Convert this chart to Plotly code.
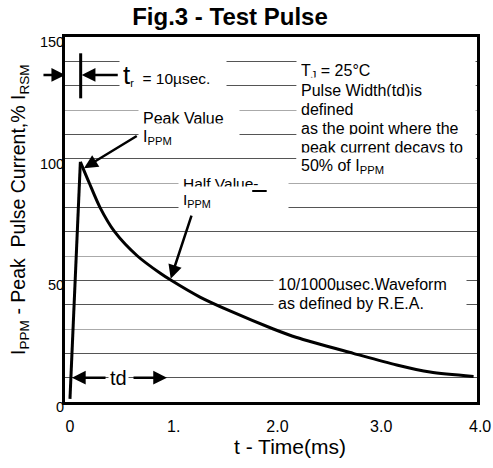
import plotly.graph_objects as go

# ---------------- data ----------------
rise_t = [0.0, 0.10]
rise_v = [1.3, 98.7]

decay_t = [0.10, 0.186, 0.289, 0.43, 0.65, 0.867, 0.975, 1.253, 1.542,
           1.96, 2.185, 2.73, 3.149, 3.47, 3.89]
decay_v = [98.7, 90.0, 80.0, 70.0, 60.0, 53.0, 50.0, 43.1, 37.4,
           30.0, 26.5, 20.0, 15.2, 12.3, 10.5]

x_tick_vals = [0, 1, 2, 3, 4]
x_tick_text = ["0", "1.", "2.0", "3.0", "4.0"]
y_label_vals = [0, 50, 100, 150]
y_grid_dark = [10, 20, 40, 70, 80, 110, 130, 140]
y_grid_light = [30, 60, 90, 120]

X_RANGE = [-0.048, 3.923]
Y_RANGE = [0, 150]

FONT = "Liberation Sans, Arial, sans-serif"
W, H = 493, 468
ML, MR, MT, MB = 65, 16, 37, 66
PW, PH = W - ML - MR, H - MT - MB

fig = go.Figure()
fig.add_trace(go.Scatter(x=rise_t, y=rise_v, mode="lines",
                         line=dict(color="black", width=3),
                         hoverinfo="skip", showlegend=False))
fig.add_trace(go.Scatter(x=decay_t, y=decay_v, mode="lines",
                         line=dict(color="black", width=3, shape="spline", smoothing=0.8),
                         hoverinfo="skip", showlegend=False))

in_range = [i for i, v in enumerate(x_tick_vals) if X_RANGE[0] <= v <= X_RANGE[1]]
fig.update_xaxes(range=X_RANGE,
                 tickvals=[x_tick_vals[i] for i in in_range],
                 ticktext=[x_tick_text[i] for i in in_range],
                 showgrid=False, zeroline=False, ticks="",
                 showline=True, linecolor="black", linewidth=3, mirror=True,
                 tickfont=dict(family=FONT, size=16, color="black"),
                 ticklabelstandoff=8)

y_tick_vals = sorted(y_label_vals + y_grid_dark)
y_tick_text = [str(v) if v in y_label_vals else "" for v in y_tick_vals]
fig.update_yaxes(range=Y_RANGE, tickvals=y_tick_vals, ticktext=y_tick_text,
                 showgrid=True, gridcolor="#555555", gridwidth=1,
                 minor=dict(tickvals=y_grid_light, showgrid=True,
                            gridcolor="#aaaaaa", gridwidth=1),
                 zeroline=False, ticks="",
                 showline=True, linecolor="black", linewidth=3, mirror=True,
                 tickfont=dict(family=FONT, size=14.5, color="black"),
                 ticklabelshift=5, ticklabelstandoff=-5)

ann = []

def text_lines(lines, x, y, spacing, width, size=16, pad=4):
    for i, t in enumerate(lines):
        ann.append(dict(text=t, x=x, y=y, xref="x", yref="y", xanchor="left",
                        yanchor="middle", yshift=-i * spacing, showarrow=False,
                        align="left", width=width, bgcolor="white", borderpad=pad,
                        font=dict(family=FONT, size=size, color="black")))

def arrow(hx, hy, tx, ty, head=2, width=2.5):
    ann.append(dict(text="", x=hx, y=hy, ax=tx, ay=ty, xref="x", yref="y",
                    axref="x", ayref="y", showarrow=True, arrowhead=head,
                    arrowsize=1.1, arrowwidth=width, arrowcolor="black", standoff=0,
                    startstandoff=0))

# text blocks
text_lines(["<span style='font-size:26px'>t</span><sub>r</sub>  = 10µsec."],
           0.475, 134.4, 0, 100, size=15.5, pad=3)
text_lines(["Peak Value", "I<sub>PPM</sub>"], 0.655, 116.5, 19, 92, size=16)
text_lines(["Half Value-", "I<sub>PPM</sub>"], 1.041, 90.0, 17.5, 101, size=15.5)
text_lines(["T<sub>J</sub> = 25°C", "Pulse Width(td)is", "defined",
            "as the point where the", "peak current decays to",
            "50% of I<sub>PPM</sub>"], 2.178, 135.7, 18.9, 170, size=16)
text_lines(["10/1000µsec.Waveform", "as defined by R.E.A."],
           1.957, 48.35, 19, 184, size=16)
ann.append(dict(text="td", x=0.472, y=9.7, xref="x", yref="y", showarrow=False,
                bgcolor="white", borderpad=1,
                font=dict(family=FONT, size=20, color="black")))

# arrows
arrow(-0.046, 134.4, -0.27, 134.4)
arrow(0.113, 134.4, 0.475, 134.4)
arrow(0.135, 96.1, 0.658, 109.7)
arrow(0.971, 50.7, 1.176, 77.2)
arrow(0.019, 10, 0.357, 10)
arrow(0.935, 10, 0.598, 10)
# short stroke under "Half Value-"
arrow(1.896, 86.7, 1.742, 86.7, head=0, width=2)

# axis titles and out-of-range tick label
ann.append(dict(text="I<sub>PPM</sub> - Peak  Pulse Current,% I<sub>RSM</sub>",
                textangle=-90, x=(19 - ML) / PW, y=(H - MB - 210) / PH,
                xref="paper", yref="paper", xanchor="center", yanchor="middle",
                showarrow=False, font=dict(family=FONT, size=19.5, color="black")))
ann.append(dict(text="t - Time(ms)", x=(290 - ML) / PW, y=-(446 - (H - MB)) / PH,
                xref="paper", yref="paper", xanchor="center", yanchor="middle",
                showarrow=False, font=dict(family=FONT, size=21, color="black")))
for v, t in zip(x_tick_vals, x_tick_text):
    if not (X_RANGE[0] <= v <= X_RANGE[1]):
        ann.append(dict(text=t, x=(v - X_RANGE[0]) / (X_RANGE[1] - X_RANGE[0]),
                        y=-(426 - (H - MB)) / PH, xref="paper", yref="paper",
                        xanchor="center", yanchor="middle", xshift=-5,
                        showarrow=False,
                        font=dict(family=FONT, size=16, color="black")))

shapes = [
    dict(type="line", xref="x", yref="y", x0=0.103, x1=0.103, y0=124.8, y1=143.3,
         line=dict(color="black", width=3)),
]

fig.update_layout(
    width=W, height=H, margin=dict(l=ML, r=MR, t=MT, b=MB),
    paper_bgcolor="white", plot_bgcolor="white",
    title=dict(text="<b>Fig.3 - Test Pulse</b>", x=230 / W, xanchor="center",
               y=1 - 17 / H, yanchor="middle",
               font=dict(family=FONT, size=24, color="black")),
    annotations=ann, shapes=shapes, showlegend=False,
)

fig.write_html("out.html", config={"displayModeBar": False},
               post_script="document.body.style.margin='0';")
